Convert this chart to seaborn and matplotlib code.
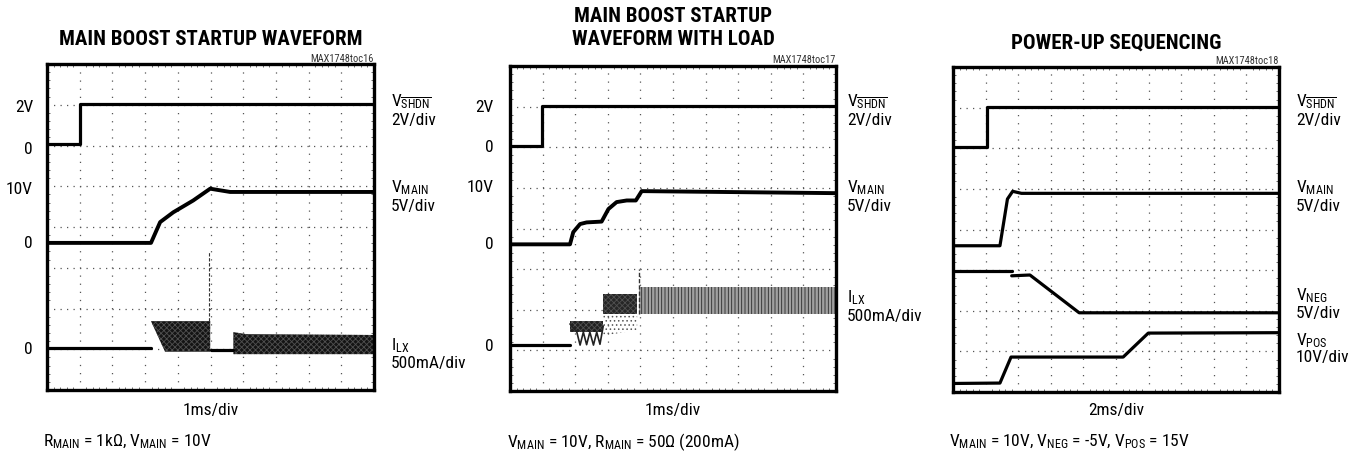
import numpy as np
import pandas as pd
import matplotlib
matplotlib.use('Agg')
import matplotlib.pyplot as plt
import seaborn as sns
from matplotlib.ticker import MultipleLocator

# traces in scope divisions (x: 0-10 div, y: 0-8 div)

# panel 1: main boost startup
p1_shdn_x = [0, 1.0, 1.0, 10]
p1_shdn_y = [6.03, 6.03, 7.02, 7.02]
p1_main_x = [0, 3.18, 3.46, 3.86, 4.47, 4.99, 5.6, 10]
p1_main_y = [3.61, 3.61, 4.12, 4.36, 4.65, 4.94, 4.86, 4.86]
p1_ilx_x = [0, 3.18, 5.0, 5.7]
p1_ilx_y = [1.03, 1.03, 0.99, 0.99]
p1_ilx_seg = [0, 0, 1, 1]
p1_burst_x = [3.18, 3.61, 4.99]
p1_burst_top = [1.69, 1.69, 1.69]
p1_burst_bot = [1.69, 0.94, 0.94]
p1_spike_x = [4.96, 4.96]
p1_spike_y = [1.69, 3.39]
p1_ripple_x = [5.7, 6.1, 10]
p1_ripple_top = [1.42, 1.37, 1.35]
p1_ripple_bot = [0.88, 0.88, 0.88]

# panel 2: main boost startup with load
p2_shdn_x = [0, 0.99, 0.99, 10]
p2_shdn_y = [6.03, 6.03, 7.02, 7.02]
p2_main_x = [0, 1.84, 1.94, 2.15, 2.35, 2.81, 3.02, 3.27, 3.58, 3.86, 4.04, 10]
p2_main_y = [3.61, 3.61, 3.91, 4.11, 4.15, 4.17, 4.48, 4.65, 4.69, 4.69, 4.92, 4.87]
p2_ilx_x = [0, 1.84]
p2_ilx_y = [1.13, 1.13]
p2_saw_x = [1.84, 2.05, 2.15, 2.25, 2.35, 2.45, 2.56, 2.66, 2.76, 2.86]
p2_saw_y = [1.65, 1.45, 1.13, 1.45, 1.14, 1.45, 1.13, 1.45, 1.15, 1.6]
p2_burst_a_x = [1.84, 2.86]
p2_burst_a_top = [1.73, 1.73]
p2_burst_a_bot = [1.45, 1.45]
p2_burst_b_x = [2.86, 3.9]
p2_burst_b_top = [2.39, 2.39]
p2_burst_b_bot = [1.9, 1.9]
p2_stray_bot = [1.36, 1.5]
p2_spike_x = [3.96, 3.96]
p2_spike_y = [1.9, 3.0]
p2_ripple_x = [3.96, 10]
p2_ripple_top = [2.55, 2.55]
p2_ripple_bot = [1.9, 1.9]

# panel 3: power-up sequencing
p3_shdn_x = [0, 1.04, 1.04, 10]
p3_shdn_y = [6.03, 6.03, 7.02, 7.02]
p3_main_x = [0, 1.44, 1.67, 1.83, 2.1, 10]
p3_main_y = [3.6, 3.6, 4.75, 4.94, 4.89, 4.89]
p3_neg_x = [0, 1.8, 1.8, 2.36, 3.87, 10]
p3_neg_y = [2.98, 2.98, 2.86, 2.88, 1.95, 1.95]
p3_neg_seg = [0, 0, 1, 1, 1, 1]
p3_pos_x = [0, 1.44, 1.78, 5.22, 5.99, 10]
p3_pos_y = [0.21, 0.22, 0.86, 0.86, 1.45, 1.46]

W, H = 1354, 460


def px(x, y):
    return x / W, 1 - y / H


def trace(ax, x, y, units=None, lw=2.3):
    df = pd.DataFrame({'x': x, 'y': y, 'u': units if units is not None else [0] * len(x)})
    sns.lineplot(data=df, x='x', y='y', units='u', estimator=None, sort=False,
                 color='black', lw=lw, ax=ax, legend=False)


def noise(ax, x, lo, hi, face='#141414', edge='#505050', hatch='xxxxxx'):
    ax.fill_between(x, lo, hi, facecolor=face, edgecolor=edge, hatch=hatch, lw=0)


def scope_axes(rect):
    ax = fig.add_axes(rect)
    ax.set_xlim(0, 10)
    ax.set_ylim(0, 8)
    ax.xaxis.set_major_locator(MultipleLocator(1))
    ax.yaxis.set_major_locator(MultipleLocator(1))
    ax.xaxis.set_minor_locator(MultipleLocator(0.2))
    ax.yaxis.set_minor_locator(MultipleLocator(0.2))
    ax.xaxis.grid(True, color='#555555', lw=0.9, linestyle=(0, (1, 5.5)))
    ax.yaxis.grid(True, color='#555555', lw=0.9, linestyle=(0, (1, 4.2)))
    ax.tick_params(which='major', length=0, labelbottom=False, labelleft=False)
    ax.tick_params(which='minor', direction='in', length=2.5, width=0.6, color='#555555',
                   top=True, right=True, bottom=True, left=True)
    for s in ax.spines.values():
        s.set_linewidth(2.4)
        s.set_color('black')
    return ax


sns.set_style('white')
plt.rcParams['font.family'] = ['Roboto Condensed', 'DejaVu Sans']
plt.rcParams['mathtext.fontset'] = 'custom'
plt.rcParams['mathtext.rm'] = 'Roboto Condensed'
plt.rcParams['mathtext.it'] = 'Roboto Condensed'
plt.rcParams['mathtext.default'] = 'rm'
plt.rcParams['hatch.linewidth'] = 0.6

fig = plt.figure(figsize=(W / 100, H / 100), dpi=100)

ax1 = scope_axes([px(47, 0)[0], 1 - 391 / H, 327 / W, 326 / H])
ax2 = scope_axes([px(510, 0)[0], 1 - 392 / H, 326 / W, 325 / H])
ax3 = scope_axes([px(953, 0)[0], 1 - 393 / H, 326 / W, 325 / H])

# panel 1
trace(ax1, p1_shdn_x, p1_shdn_y)
trace(ax1, p1_main_x, p1_main_y, lw=2.8)
trace(ax1, p1_ilx_x, p1_ilx_y, units=p1_ilx_seg)
noise(ax1, p1_burst_x, p1_burst_bot, p1_burst_top)
noise(ax1, p1_ripple_x, p1_ripple_bot, p1_ripple_top)
ax1.plot(p1_spike_x, p1_spike_y, color='#333333', lw=0.8, ls=(0, (3, 1.5)))

# panel 2
trace(ax2, p2_shdn_x, p2_shdn_y)
trace(ax2, p2_main_x, p2_main_y, lw=2.8)
trace(ax2, p2_ilx_x, p2_ilx_y)
noise(ax2, p2_burst_a_x, p2_burst_a_bot, p2_burst_a_top, face='#202020')
ax2.plot(p2_saw_x, p2_saw_y, color='#222222', lw=1.2)
noise(ax2, p2_burst_b_x, p2_burst_b_bot, p2_burst_b_top, face='#262626')
noise(ax2, p2_burst_b_x, p2_stray_bot, p2_burst_b_bot, face='none', edge='#555555', hatch='....')
ax2.plot(p2_spike_x, p2_spike_y, color='#333333', lw=1.0, ls=(0, (3, 1.5)))
noise(ax2, p2_ripple_x, p2_ripple_bot, p2_ripple_top, face='#a0a0a0', edge='#2a2a2a', hatch='|||||')

# panel 3
trace(ax3, p3_shdn_x, p3_shdn_y)
trace(ax3, p3_main_x, p3_main_y)
trace(ax3, p3_neg_x, p3_neg_y, units=p3_neg_seg)
trace(ax3, p3_pos_x, p3_pos_y)

# titles and captions
tfont = dict(fontsize=15, fontweight='bold', ha='center', va='center', color='black')
fig.text(*px(210.5, 40), 'MAIN BOOST STARTUP WAVEFORM', **tfont)
fig.text(*px(673, 16), 'MAIN BOOST STARTUP', **tfont)
fig.text(*px(673, 40), 'WAVEFORM WITH LOAD', **tfont)
fig.text(*px(1116, 43), 'POWER-UP SEQUENCING', **tfont)

sfont = dict(fontsize=7.5, ha='right', va='center', color='#333333')
fig.text(*px(374, 58.5), 'MAX1748toc16', **sfont)
fig.text(*px(836, 60), 'MAX1748toc17', **sfont)
fig.text(*px(1279, 61), 'MAX1748toc18', **sfont)

lfont = dict(fontsize=12.5, va='center', color='black')
for cx, txt in [(210.5, '1ms/div'), (673, '1ms/div'), (1116, '2ms/div')]:
    fig.text(*px(cx, 411), txt, ha='center', **lfont)

fig.text(*px(43, 442), r'R$_{\rm MAIN}$ = 1kΩ, V$_{\rm MAIN}$ = 10V', ha='left', **lfont)
fig.text(*px(507, 442), r'V$_{\rm MAIN}$ = 10V, R$_{\rm MAIN}$ = 50Ω (200mA)', ha='left', **lfont)
fig.text(*px(949, 442), r'V$_{\rm MAIN}$ = 10V, V$_{\rm NEG}$ = -5V, V$_{\rm POS}$ = 15V', ha='left', **lfont)

# left-side level labels
for xr, labels in [(33, [(107, '2V'), (149, '0'), (190, '10V'), (244, '0'), (350, '0')]),
                   (494, [(107, '2V'), (147, '0'), (188, '10V'), (245, '0'), (347, '0')])]:
    for y, txt in labels:
        fig.text(*px(xr, y), txt, ha='right', **lfont)

# right-side channel labels
shdn = r'V$_{\overline{\rm SHDN}}$'
for xl, labels in [(391, [(102, shdn), (121, '2V/div'), (188, r'V$_{\rm MAIN}$'), (206, '5V/div'),
                          (346, r'I$_{\rm LX}$'), (364, '500mA/div')]),
                   (847, [(102, shdn), (121, '2V/div'), (188, r'V$_{\rm MAIN}$'), (206, '5V/div'),
                          (298, r'I$_{\rm LX}$'), (316, '500mA/div')]),
                   (1296, [(102, shdn), (121, '2V/div'), (188, r'V$_{\rm MAIN}$'), (206, '5V/div'),
                           (296, r'V$_{\rm NEG}$'), (314, '5V/div'),
                           (341, r'V$_{\rm POS}$'), (358, '10V/div')])]:
    for y, txt in labels:
        fig.text(*px(xl, y), txt, ha='left', **lfont)

fig.savefig('out.png', dpi=100)
